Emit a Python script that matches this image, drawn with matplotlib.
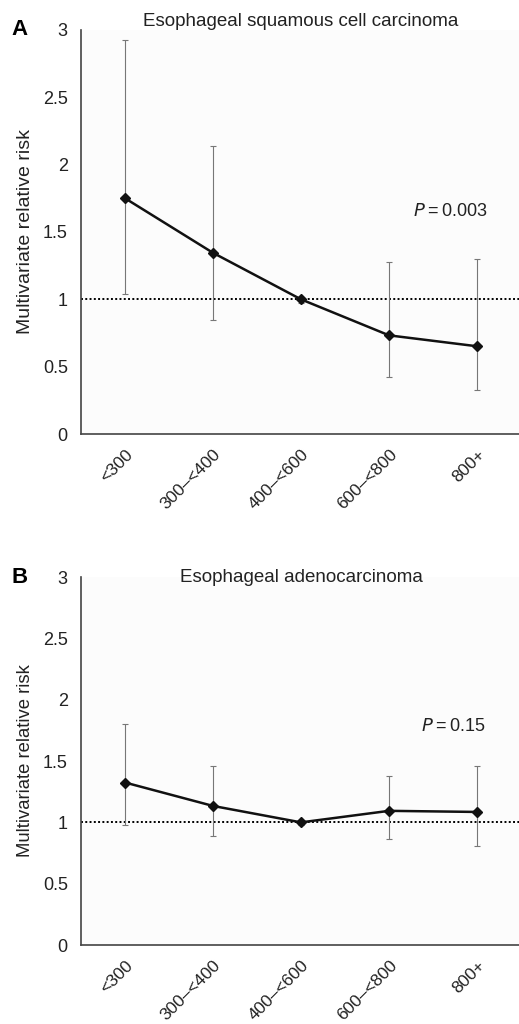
#!/usr/bin/python3

# Relative risk by category, two panels (ESCC and EAC)

import matplotlib
matplotlib.use("Agg")
import matplotlib.pyplot as plt
import numpy as np

plt.rcParams['font.family'] = ['Liberation Sans', 'DejaVu Sans']

categories = ['<300', '300\u2013<400', '400\u2013<600', '600\u2013<800', '800+']

# panel A: squamous cell carcinoma
rr_a = [1.75, 1.345, 1.0, 0.733, 0.652]
lo_a = [1.04, 0.845, 0.97, 0.424, 0.324]
hi_a = [2.92, 2.14, 1.02, 1.276, 1.296]

# panel B: adenocarcinoma
rr_b = [1.325, 1.134, 1.0, 1.094, 1.085]
lo_b = [0.977, 0.885, 0.98, 0.861, 0.804]
hi_b = [1.805, 1.458, 1.01, 1.382, 1.458]

titles = ['Esophageal squamous cell carcinoma', 'Esophageal adenocarcinoma']
pvals = ['0.003', '0.15']
pypos = [1.65, 1.78]
pxpos = [3.27, 3.36]
letters = ['A', 'B']
ylab_size = [14, 13.3]
title_y = [1.02, 1.0]

fig = plt.figure(figsize=(5.19, 10.24), dpi=100)
axA = fig.add_axes([0.156, 0.576, 0.848, 0.395])
axB = fig.add_axes([0.156, 0.0771, 0.848, 0.3594])

panels = [(axA, rr_a, lo_a, hi_a), (axB, rr_b, lo_b, hi_b)]

for i, (ax, rr, lo, hi) in enumerate(panels):
    x = np.arange(len(categories))
    rr = np.array(rr)
    yerr = [rr - np.array(lo), np.array(hi) - rr]
    ax.set_facecolor('#fcfcfc')
    ax.axhline(1.0, color='black', linestyle=(0, (1, 1.2)), linewidth=1.4, zorder=1)
    ax.errorbar(x, rr, yerr=yerr, fmt='none', ecolor='#777777', elinewidth=0.8,
                capsize=2.5, capthick=0.8, zorder=2)
    ax.plot(x, rr, color='#111111', linewidth=1.8, marker='D', markersize=5.5,
            markerfacecolor='#111111', markeredgecolor='#111111', zorder=3)
    ax.set_xlim(-0.5, 4.5)
    ax.set_ylim(0, 3)
    ax.set_yticks([0, 0.5, 1, 1.5, 2, 2.5, 3])
    ax.set_yticklabels(['0', '0.5', '1', '1.5', '2', '2.5', '3'], fontsize=13)
    ax.set_xticks(x)
    ax.set_xticklabels(categories, rotation=45, ha='right', rotation_mode='anchor',
                       fontsize=12.5)
    ax.tick_params(axis='both', length=0, colors='#222222')
    ax.tick_params(axis='y', pad=9.5)
    ax.tick_params(axis='x', pad=9)
    for s in ['top', 'right']:
        ax.spines[s].set_visible(False)
    for s in ['left', 'bottom']:
        ax.spines[s].set_color('#444444')
        ax.spines[s].set_linewidth(1.2)
    ax.set_ylabel('Multivariate relative risk', fontsize=ylab_size[i], color='#222222',
                  labelpad=6)
    ax.text(0.5, title_y[i], titles[i], transform=ax.transAxes, ha='center', va='center',
            fontsize=13.5, color='#222222')
    ax.text(pxpos[i], pypos[i], '$P$' + '\u2009=\u2009' + pvals[i], ha='left', va='center',
            fontsize=13, color='#222222')
    ax.text(-0.158, 1.0, letters[i], transform=ax.transAxes, ha='left', va='center',
            fontsize=16, fontweight='bold')

plt.savefig('out.png', dpi=100)
